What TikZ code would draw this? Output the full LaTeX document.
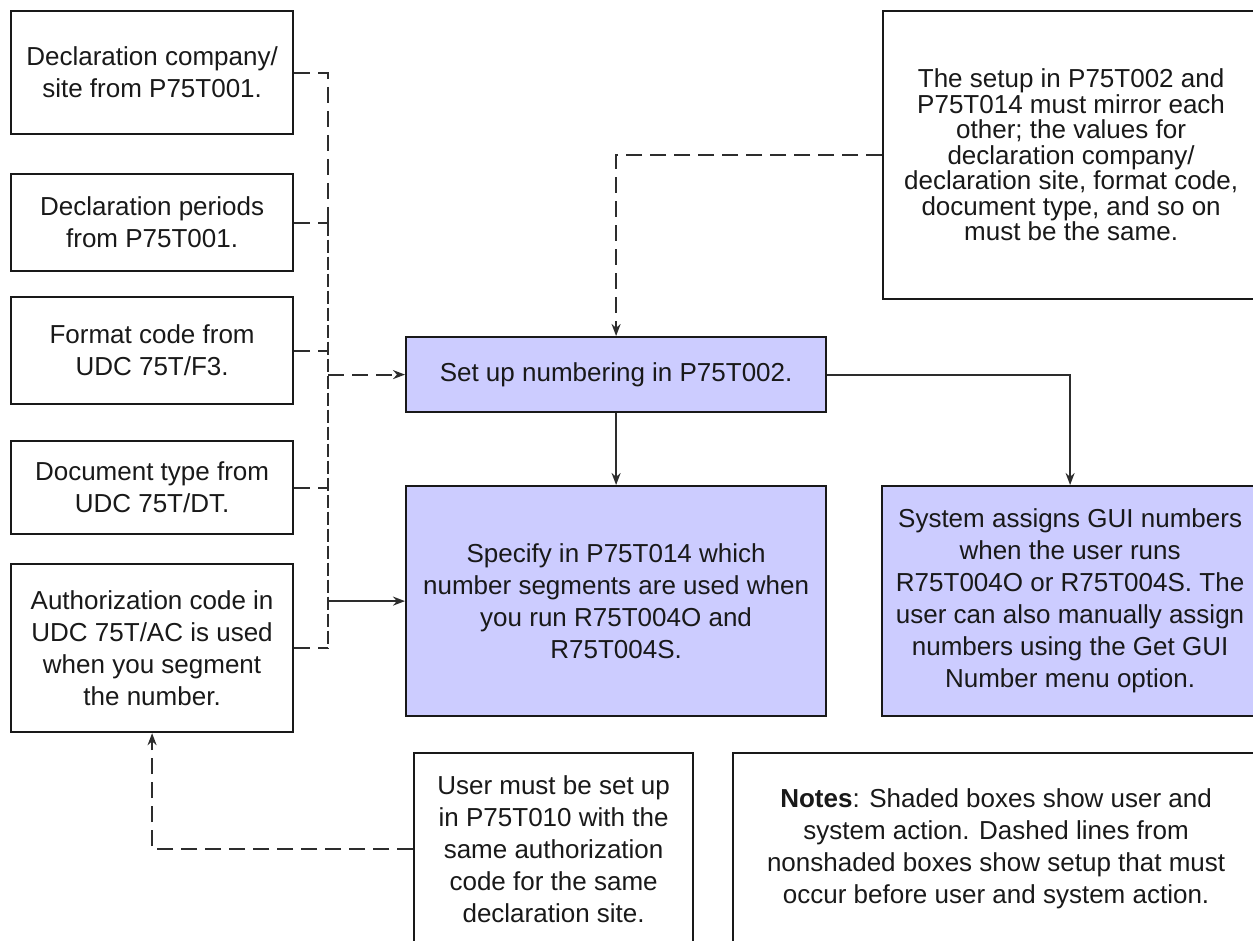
\documentclass[tikz,border=0pt]{standalone}
\usepackage{fontspec}
\setmainfont{Liberation Sans}
\usetikzlibrary{arrows.meta}
\definecolor{lav}{RGB}{204,204,255}
\definecolor{ink}{RGB}{25,25,25}
\definecolor{wire}{RGB}{45,45,45}
\begin{document}
\begin{tikzpicture}[x=1pt,y=-1pt,
  box/.style={draw=ink, line width=2.2pt, rectangle, inner sep=0pt, anchor=north west,
    align=center, font=\fontsize{26}{32}\selectfont, text=ink},
  shadedbox/.style={box, fill=lav},
  dline/.style={draw=wire, line width=1.9pt, dash pattern=on 16pt off 8pt},
  denseline/.style={draw=wire, line width=2.3pt, dash pattern=on 13pt off 4pt},
  sline/.style={draw=wire, line width=1.9pt},
  tip/.style={-{Stealth[length=12pt,width=9pt]}}
]
\useasboundingbox (0,0) rectangle (1253,940);
\fill[white] (0,0) rectangle (1253,940);

% left column
\node[box, minimum width=282pt, minimum height=123pt] (A) at (10,10) {Declaration company/\\site from P75T001.};
\node[box, minimum width=282pt, minimum height=97pt] (B) at (10,173) {Declaration periods\\from P75T001.};
\node[box, minimum width=282pt, minimum height=107pt] (C) at (10,296) {Format code from\\UDC 75T/F3.};
\node[box, minimum width=282pt, minimum height=93pt] (D) at (10,440) {Document type from\\UDC 75T/DT.};
\node[box, minimum width=282pt, minimum height=168pt] (E) at (10,563) {Authorization code in\\UDC 75T/AC is used\\when you segment\\the number.};

% right / middle
\node[box, minimum width=376pt, minimum height=288pt, font=\fontsize{26}{25.5}\selectfont] (F) at (882,10)
  {The setup in P75T002 and\\P75T014 must mirror each\\other; the values for\\declaration company/\\declaration site, format code,\\document type, and so on\\must be the same.};
\node[shadedbox, minimum width=420pt, minimum height=75pt] (S) at (405,336) {Set up numbering in P75T002.};
\node[shadedbox, minimum width=420pt, minimum height=230pt] (P) at (405,485)
  {Specify in P75T014 which\\number segments are used when\\you run R75T004O and\\R75T004S.};
\node[shadedbox, minimum width=376pt, minimum height=230pt] (G) at (881,485)
  {System assigns GUI numbers\\when the user runs\\R75T004O or R75T004S. The\\user can also manually assign\\numbers using the Get GUI\\Number menu option.};
\node[box, minimum width=279pt, minimum height=192pt] (U) at (413,752)
  {User must be set up\\in P75T010 with the\\same authorization\\code for the same\\declaration site.};
\node[box, minimum width=526pt, minimum height=192pt] (N) at (732,752)
  {\textbf{Notes}: Shaded boxes show user and\\system action. Dashed lines from\\nonshaded boxes show setup that must\\occur before user and system action.};

% trunk
\coordinate (tr) at (328,373);
\draw[dline] (A.east) -- (A.east -| tr) -- (B.east -| tr);
\draw[denseline] (B.east -| tr) -- (E.east -| tr);
\draw[dline] (B.east) -- (B.east -| tr);
\draw[dline] (C.east) -- (C.east -| tr);
\draw[dline] (D.east) -- (D.east -| tr);
\draw[dline] (E.east) -- (E.east -| tr);
\draw[dline, tip] (S.west -| tr) -- (S.west);
\draw[sline, tip] (P.west -| tr) -- (P.west);

% other connectors
\draw[dline, tip] (F.west) -| (S.north);
\draw[sline, tip] (S.south) -- (P.north);
\draw[sline, tip] (S.east) -| (G.north);
\draw[dline, tip] (U.west) -| (E.south);
\end{tikzpicture}
\end{document}
